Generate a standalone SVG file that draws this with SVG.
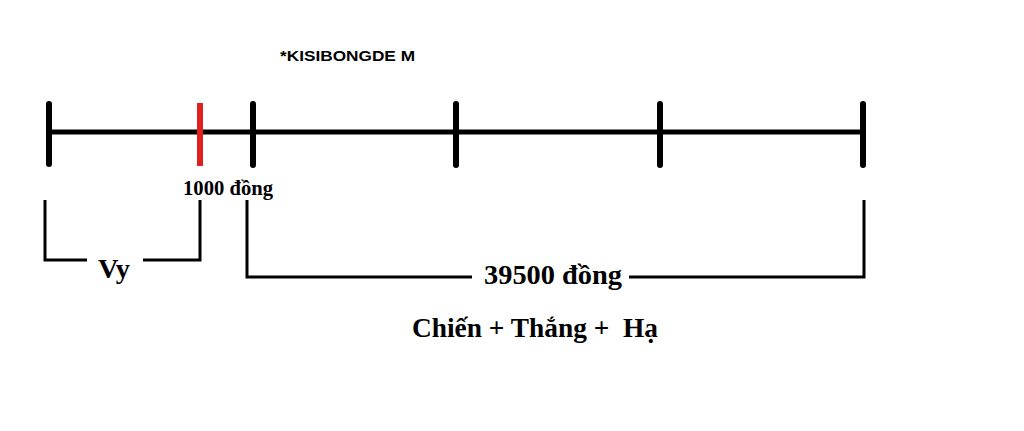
<svg xmlns="http://www.w3.org/2000/svg" width="1024" height="431" viewBox="0 0 1024 431">
<style>
.ax{stroke:#000;stroke-width:5;fill:none}
.tk{stroke:#000;stroke-width:6;stroke-linecap:round}
.br{stroke:#000;stroke-width:3;fill:none}
.t{font-family:"Liberation Serif","Times New Roman",serif;font-weight:bold;fill:#000;white-space:pre}
</style>
<rect width="1024" height="431" fill="#fff"/>
<text x="280" y="61" font-family="'Liberation Sans',Arial,sans-serif" font-weight="bold" font-size="15" textLength="135" lengthAdjust="spacingAndGlyphs">*KISIBONGDE M</text>
<g id="connectors">
<line class="ax" x1="46" y1="132" x2="864" y2="132"/>
<polyline class="br" points="45,200 45,260 87,260"/>
<polyline class="br" points="143,260 200,260 200,200"/>
<polyline class="br" points="247,200 247,277 472,277"/>
<polyline class="br" points="629,277 864,277 864,200"/>
</g>
<g id="tick0"><line class="tk" x1="49" y1="104" x2="49" y2="164"/></g>
<g id="tickRed"><line class="tk" x1="200" y1="103" x2="200" y2="166" style="stroke:#e0201f;stroke-linecap:butt"/></g>
<g id="tick1"><line class="tk" x1="253" y1="104" x2="253" y2="165"/></g>
<g id="tick2"><line class="tk" x1="456" y1="104" x2="456" y2="165"/></g>
<g id="tick3"><line class="tk" x1="660" y1="104" x2="660" y2="165"/></g>
<g id="tick4"><line class="tk" x1="863" y1="104" x2="863" y2="165"/></g>
<g id="label1000"><text class="t" x="183" y="195" font-size="20" textLength="90" lengthAdjust="spacingAndGlyphs">1000 đồng</text></g>
<g id="labelVy"><text class="t" x="98" y="278" font-size="28" textLength="32" lengthAdjust="spacingAndGlyphs">Vy</text></g>
<g id="label39500"><text class="t" x="484" y="284" font-size="28" textLength="138" lengthAdjust="spacingAndGlyphs">39500 đồng</text></g>
<g id="labelNames"><text class="t" x="412" y="337" font-size="27" textLength="246" lengthAdjust="spacingAndGlyphs">Chiến + Thắng +  Hạ</text></g>
</svg>
